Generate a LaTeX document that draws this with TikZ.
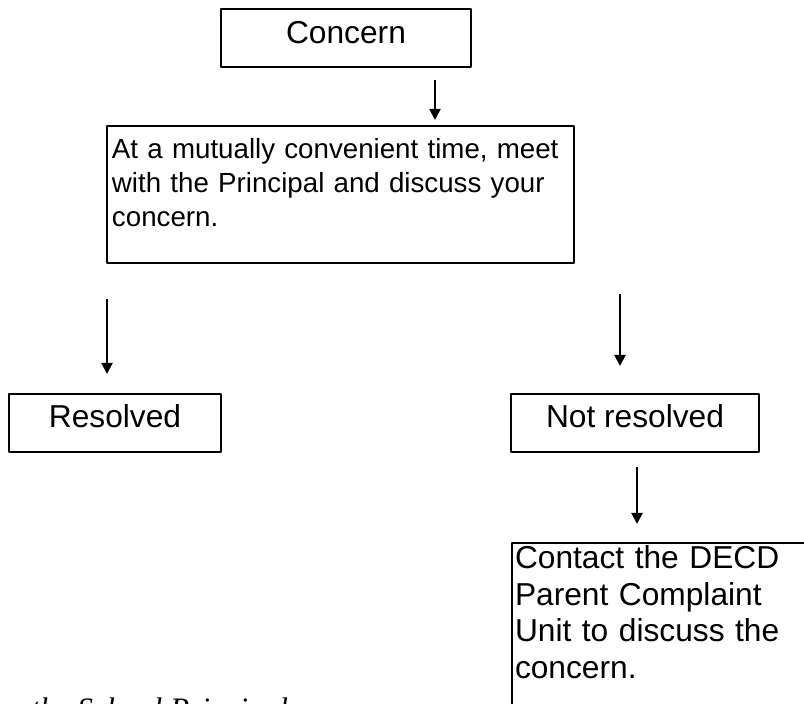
\documentclass[tikz,border=0pt]{standalone}
\usepackage{fontspec}
\setmainfont{Liberation Sans}
\newfontfamily\notefont{Liberation Serif}
\usetikzlibrary{arrows.meta}

\begin{document}
\begin{tikzpicture}[x=0.5pt, y=-0.5pt, line join=round,
box/.style={draw, line width=1pt, inner sep=0pt},
big/.style={font=\fontsize{15.85}{18.25}\selectfont},
arr/.style={line width=1pt, -{Triangle[length=5.5pt,width=5.5pt]}}]

\useasboundingbox (0,0) rectangle (804,704);

% Boxes of the chart
\node[box, big, minimum width=125pt, minimum height=29pt, text height=11pt, text depth=5pt] (concern) at (346,38) {Concern};

\node[box, anchor=north west, font=\fontsize{13.85}{17}\selectfont, align=left, text width=228.5pt,
  inner xsep=2.5pt, inner ysep=2pt, text height=14.5pt, text depth=50pt] (meet) at (106,125)
  {At a mutually convenient time, meet\\with the Principal and discuss your\\concern.};

\node[box, big, minimum width=106pt, minimum height=29pt, text height=11pt, text depth=6pt] (resolved) at (115,423) {Resolved};
\node[box, big, minimum width=124pt, minimum height=29pt, text height=11pt, text depth=6pt] (notresolved) at (635,423) {Not resolved};

\node[box, big, anchor=north west, align=left, text width=147.5pt,
  inner xsep=1.5pt, inner ysep=2pt, text height=11pt, text depth=79pt] (contact) at (511,542)
  {Contact the DECD\\Parent Complaint\\Unit to discuss the\\concern.};

% Note at the foot, cut by the page edge
\node[anchor=base west, inner sep=0pt, font=\notefont\itshape\fontsize{15.6}{19}\selectfont] (note) at (31,720) {the School Principal};

% Arrows
\coordinate (c1) at (435,0);
\coordinate (c2) at (107,0);
\coordinate (c3) at (620,0);
\coordinate (c4) at (637,0);

\draw[arr, shorten <=6pt, shorten >=2.5pt] (concern.south -| c1) -- (meet.north -| c1);
\draw[arr, shorten <=17.5pt, shorten >=9.5pt] (meet.south -| c2) -- (resolved.north -| c2);
\draw[arr, shorten <=15pt, shorten >=13.5pt] (meet.south -| c3) -- (notresolved.north -| c3);
\draw[arr, shorten <=7pt, shorten >=9pt] (notresolved.south -| c4) -- (contact.north -| c4);

\end{tikzpicture}
\end{document}
